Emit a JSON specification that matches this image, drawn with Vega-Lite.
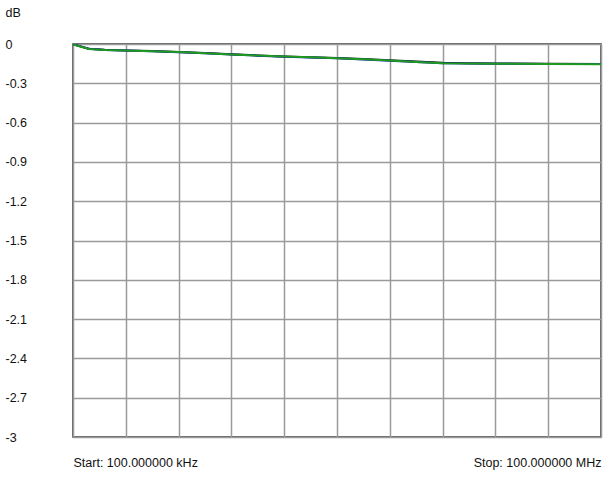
{
  "$schema": "https://vega.github.io/schema/vega-lite/v6.json",
  "width": 528,
  "height": 393,
  "autosize": {"type": "none"},
  "padding": {"left": 73, "top": 44, "right": 12, "bottom": 40},
  "background": "white",
  "config": {
    "view": {"stroke": "#333", "strokeWidth": 1.5},
    "font": "Liberation Sans"
  },
  "data": {
    "values": [
      {"x": 0, "db": -0.002, "s": "black"}, {"x": 0.3, "db": -0.036, "s": "black"}, {"x": 0.6, "db": -0.044, "s": "black"}, {"x": 1, "db": -0.049, "s": "black"}, {"x": 1.5, "db": -0.054, "s": "black"}, {"x": 2, "db": -0.061, "s": "black"}, {"x": 2.5, "db": -0.068, "s": "black"}, {"x": 3, "db": -0.078, "s": "black"}, {"x": 3.5, "db": -0.087, "s": "black"}, {"x": 4, "db": -0.095, "s": "black"}, {"x": 4.5, "db": -0.101, "s": "black"}, {"x": 5, "db": -0.107, "s": "black"}, {"x": 5.5, "db": -0.114, "s": "black"}, {"x": 6, "db": -0.124, "s": "black"}, {"x": 6.5, "db": -0.134, "s": "black"}, {"x": 7, "db": -0.144, "s": "black"}, {"x": 7.5, "db": -0.146, "s": "black"}, {"x": 8, "db": -0.148, "s": "black"}, {"x": 9, "db": -0.151, "s": "black"}, {"x": 10, "db": -0.152, "s": "black"},
      {"x": 0, "db": -0.002, "s": "blue"}, {"x": 0.3, "db": -0.037, "s": "blue"}, {"x": 0.6, "db": -0.045, "s": "blue"}, {"x": 1, "db": -0.05, "s": "blue"}, {"x": 1.5, "db": -0.056, "s": "blue"}, {"x": 2, "db": -0.063, "s": "blue"}, {"x": 2.5, "db": -0.071, "s": "blue"}, {"x": 3, "db": -0.081, "s": "blue"}, {"x": 3.5, "db": -0.089, "s": "blue"}, {"x": 4, "db": -0.097, "s": "blue"}, {"x": 4.5, "db": -0.103, "s": "blue"}, {"x": 5, "db": -0.109, "s": "blue"}, {"x": 5.5, "db": -0.118, "s": "blue"}, {"x": 6, "db": -0.127, "s": "blue"}, {"x": 6.5, "db": -0.138, "s": "blue"}, {"x": 7, "db": -0.146, "s": "blue"}, {"x": 7.5, "db": -0.148, "s": "blue"}, {"x": 8, "db": -0.15, "s": "blue"}, {"x": 9, "db": -0.152, "s": "blue"}, {"x": 10, "db": -0.153, "s": "blue"},
      {"x": 0, "db": -0.003, "s": "green"}, {"x": 0.3, "db": -0.038, "s": "green"}, {"x": 0.6, "db": -0.045, "s": "green"}, {"x": 1, "db": -0.05, "s": "green"}, {"x": 1.5, "db": -0.055, "s": "green"}, {"x": 2, "db": -0.062, "s": "green"}, {"x": 2.5, "db": -0.07, "s": "green"}, {"x": 3, "db": -0.08, "s": "green"}, {"x": 3.5, "db": -0.088, "s": "green"}, {"x": 4, "db": -0.096, "s": "green"}, {"x": 4.5, "db": -0.102, "s": "green"}, {"x": 5, "db": -0.108, "s": "green"}, {"x": 5.5, "db": -0.117, "s": "green"}, {"x": 6, "db": -0.126, "s": "green"}, {"x": 6.5, "db": -0.137, "s": "green"}, {"x": 7, "db": -0.147, "s": "green"}, {"x": 7.5, "db": -0.149, "s": "green"}, {"x": 8, "db": -0.151, "s": "green"}, {"x": 9, "db": -0.153, "s": "green"}, {"x": 10, "db": -0.154, "s": "green"}
    ]
  },
  "mark": {"type": "line", "strokeWidth": 2, "clip": true},
  "encoding": {
    "x": {
      "field": "x", "type": "quantitative",
      "scale": {"domain": [0, 10], "nice": false, "zero": false},
      "axis": {
        "values": [0, 1, 2, 3, 4, 5, 6, 7, 8, 9, 10],
        "grid": true, "gridColor": "#9a9a9a", "gridWidth": 1.5, "gridOpacity": 1,
        "domain": false, "ticks": false,
        "labelExpr": "datum.value == 0 ? 'Start: 100.000000 kHz' : datum.value == 10 ? 'Stop: 100.000000 MHz' : ''",
        "labelAlign": {"condition": {"test": "datum.value == 0", "value": "left"}, "value": "right"},
        "labelFlush": false, "labelOverlap": false, "labelBound": false,
        "labelPadding": 25, "labelBaseline": "middle",
        "labelFontSize": 12.5, "labelColor": "#111",
        "title": null
      }
    },
    "y": {
      "field": "db", "type": "quantitative",
      "scale": {"domain": [-3, 0], "nice": false, "zero": false},
      "axis": {
        "values": [0, -0.3, -0.6, -0.9, -1.2, -1.5, -1.8, -2.1, -2.4, -2.7, -3],
        "labelExpr": "datum.value == 0 ? '0' : datum.value <= -2.99 ? '-3' : '-' + format(-datum.value, '.1f')",
        "grid": true, "gridColor": "#9a9a9a", "gridWidth": 1.5, "gridOpacity": 1,
        "domain": false, "ticks": false, "tickSize": 0,
        "labelAlign": "left", "labelPadding": 68, "labelBaseline": "middle",
        "labelFontSize": 12.5, "labelColor": "#111", "labelFlush": false, "labelOverlap": false,
        "title": "dB", "titleAngle": 0, "titleAlign": "left", "titleBaseline": "middle",
        "titleX": -68, "titleY": -32, "titleFontSize": 12.5, "titleFontWeight": "normal", "titleColor": "#111"
      }
    },
    "color": {
      "field": "s", "type": "nominal",
      "scale": {"domain": ["black", "blue", "green"], "range": ["#111111", "#2020c8", "#1e9a1e"]},
      "legend": null
    },
    "order": {"field": "x", "type": "quantitative"}
  }
}
